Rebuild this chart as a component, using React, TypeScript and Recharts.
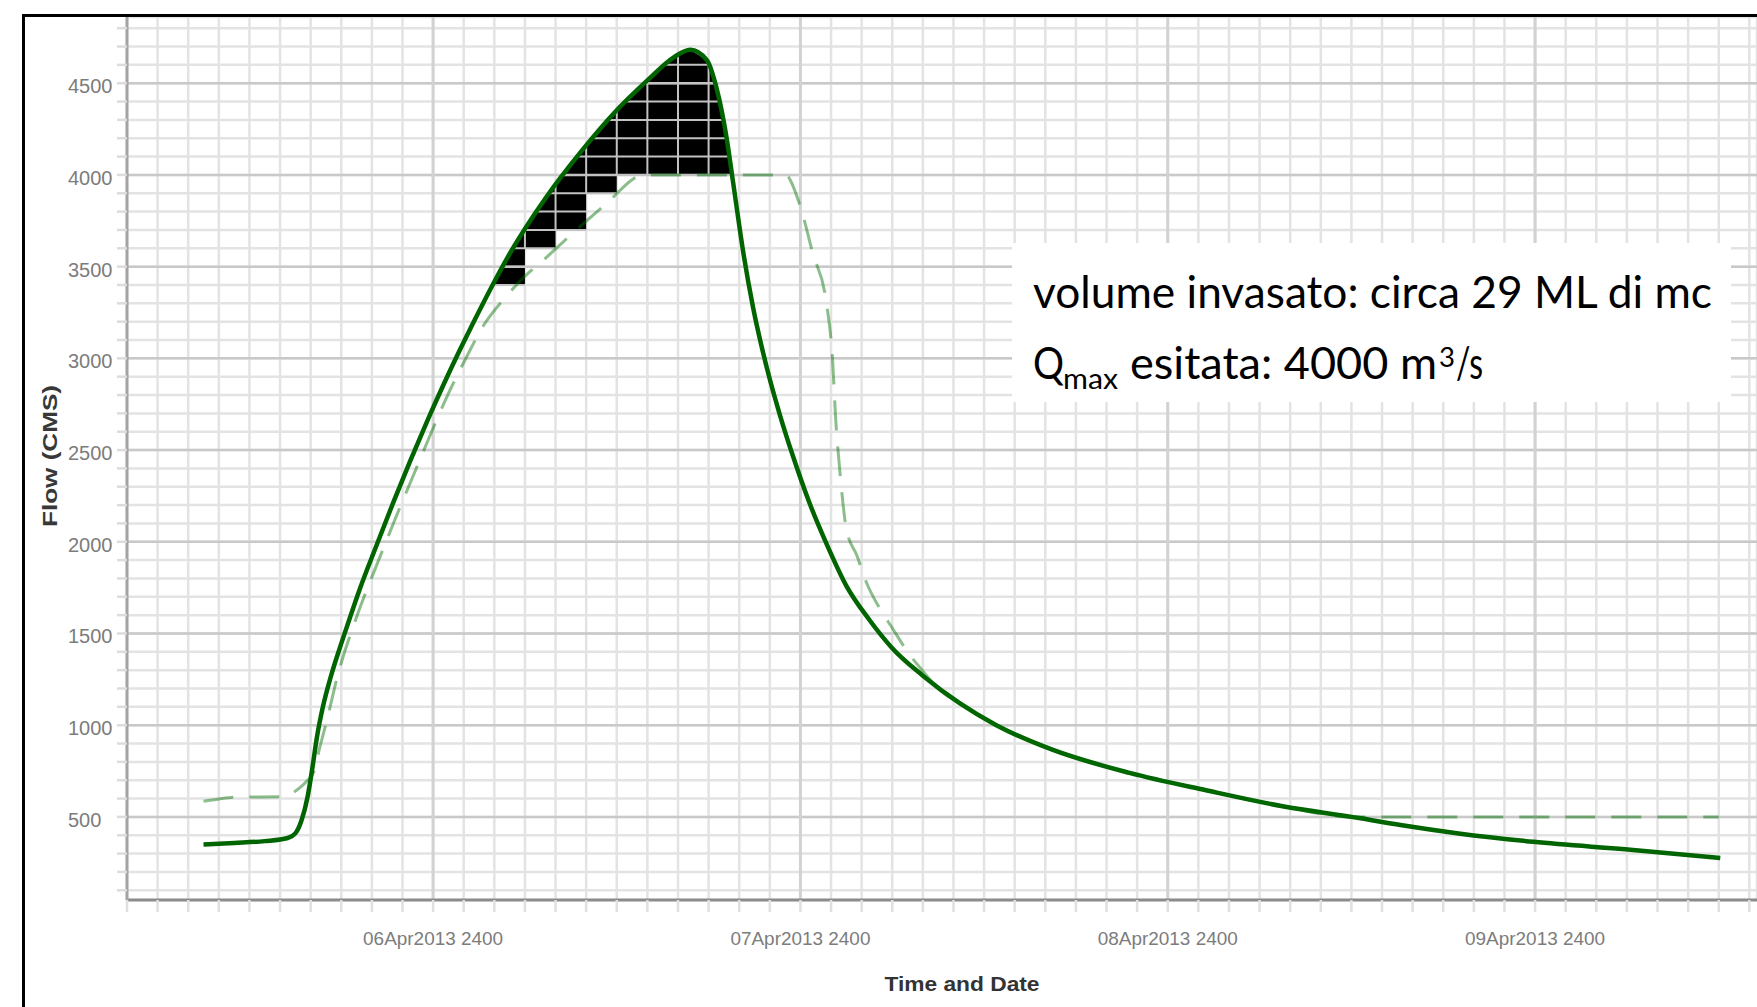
import React from "react";
import {
  ComposedChart,
  Line,
  Area,
  XAxis,
  YAxis,
  CartesianGrid,
  ReferenceLine,
} from "recharts";

// ---- DATA (hours from 06Apr2013 04:00, flow in m3/s) ----
const inflowHours = [
  5.0, 7.0, 9.0, 10.5, 11.0, 11.4, 11.8, 12.1, 12.4, 12.8, 13.3, 13.9, 14.4, 15.2,
  16.3, 17.4, 18.5, 19.6, 20.7, 21.8, 22.6, 23.7, 25.0, 27.4, 29.6, 31.8, 34.0,
  35.7, 36.8, 37.9, 38.5, 39.2, 39.6, 40.3, 40.9, 41.8, 42.7, 43.5, 44.6, 45.7,
  47.0, 48.5, 50.0, 52.0, 54.4, 56.8, 60.5, 65.5, 70.5, 75.5, 80.5, 83.2, 87.0,
  91.9, 98.4, 104.1,
];
const inflowFlow = [
  350, 358, 368, 385, 410, 480, 610, 760, 930, 1100, 1260, 1420, 1545, 1740,
  1980, 2215, 2440, 2655, 2860, 3055, 3190, 3370, 3570, 3880, 4120, 4335, 4515,
  4640, 4682, 4625, 4480, 4190, 3960, 3560, 3280, 2950, 2680, 2470, 2210, 1990,
  1760, 1575, 1420, 1270, 1120, 1000, 865, 740, 645, 558, 494, 456, 410,
  364, 320, 276,
];
const outflowHours = [
  5.0, 6.0, 7.0, 10.2, 10.8, 11.3, 11.8, 12.2, 12.6, 13.1, 13.7, 15.0, 16.3, 17.6,
  18.7, 19.6, 20.9, 22.2, 23.3, 24.8, 25.9, 27.4, 28.7, 31.4, 33.5, 34.0,
  43.0, 44.0, 44.8, 45.7, 46.1, 46.3, 46.6, 47.0, 47.7, 48.3, 49.2, 50.0, 51.0,
  52.0, 53.0, 54.4, 56.8, 60.5, 65.5, 70.5, 75.5, 80.0, 90.0, 104.0,
];
const outflowFlow = [
  585, 598, 607, 610, 630, 660, 700, 745, 880, 1040, 1250, 1590, 1870, 2140,
  2360, 2540, 2790, 3010, 3180, 3340, 3440, 3550, 3650, 3850, 3995, 4000,
  4000, 3826, 3575, 3302, 2992, 2675, 2365, 2070, 1923, 1781, 1634, 1530, 1400,
  1295, 1200, 1120, 1000, 865, 740, 645, 558, 500, 500, 500,
];

const yLabelTicks = [500, 1000, 1500, 2000, 2500, 3000, 3500, 4000, 4500];
const xMajorHours = [20, 44, 68, 92];
const xMajorLabels = ["06Apr2013 2400", "07Apr2013 2400", "08Apr2013 2400", "09Apr2013 2400"];
const shadeColumns = [24, 26, 28, 30, 32, 34, 36, 38];

const yDomain: [number, number] = [47, 4861];
const xDomain: [number, number] = [0, 106.5];
const yMinorTicks = Array.from({ length: 48 }, (_, i) => (i + 1) * 100);
const xMinorTicks = Array.from({ length: 54 }, (_, i) => i * 2);

const inflowData = inflowHours.map((t, i) => ({ t, v: inflowFlow[i] }));
const outflowData = outflowHours.map((t, i) => ({ t, v: outflowFlow[i] }));

// ---- helpers to derive the hatched storage region from the two series ----
function interp(xs: number[], ys: number[], x: number) {
  for (let i = 1; i < xs.length; i++) {
    if (x <= xs[i]) {
      const f = (x - xs[i - 1]) / (xs[i] - xs[i - 1]);
      return ys[i - 1] + f * (ys[i] - ys[i - 1]);
    }
  }
  return ys[ys.length - 1];
}
const peakIdx = inflowFlow.indexOf(Math.max(...inflowFlow));
function riseTime(level: number) {
  for (let i = 1; i <= peakIdx; i++) {
    if (inflowFlow[i] >= level) {
      const f = (level - inflowFlow[i - 1]) / (inflowFlow[i] - inflowFlow[i - 1]);
      return inflowHours[i - 1] + f * (inflowHours[i] - inflowHours[i - 1]);
    }
  }
  return 999;
}
function fallTime(level: number) {
  for (let i = peakIdx + 1; i < inflowFlow.length; i++) {
    if (inflowFlow[i] <= level) {
      const f = (inflowFlow[i - 1] - level) / (inflowFlow[i - 1] - inflowFlow[i]);
      return inflowHours[i - 1] + f * (inflowHours[i] - inflowHours[i - 1]);
    }
  }
  return -999;
}
const colLow = (c: number) => Math.ceil(interp(outflowHours, outflowFlow, c + 1) / 100) * 100;

const shadeData: { t: number; r: [number, number] }[] = [];
shadeColumns.forEach((c) => {
  const low = colLow(c);
  for (let k = 0; k <= 10; k++) {
    const t = c + k * 0.2;
    const up = interp(inflowHours, inflowFlow, t);
    shadeData.push({ t, r: [low, Math.max(low, up)] });
  }
});

// grid segments visible inside the black region
const hSegs: { v: number; a: number; b: number }[] = [];
for (let v = 3400; v <= 4700; v += 100) {
  const a = Math.max(24, riseTime(v));
  let lastCol = -1;
  shadeColumns.forEach((c) => {
    if (colLow(c) <= v) lastCol = c;
  });
  const b = Math.min(lastCol + 2, fallTime(v));
  if (lastCol >= 0 && b > a) hSegs.push({ v, a, b });
}
const vSegs: { t: number; lo: number; hi: number }[] = [];
shadeColumns.slice(1).forEach((c) => {
  const lo = colLow(c);
  const hi = interp(inflowHours, inflowFlow, c);
  if (hi > lo) vSegs.push({ t: c, lo, hi });
});

const YTick = (p: any) => {
  const v = p.payload.value;
  if (!yLabelTicks.includes(v)) return <g />;
  return (
    <text
      x={p.x - 47}
      y={p.y + 10}
      textAnchor="start"
      fontSize={20}
      fontFamily="'Liberation Sans', Arial, sans-serif"
      fill="#7c7c7c"
    >
      {v}
    </text>
  );
};

const XTick = (p: any) => {
  const idx = xMajorHours.indexOf(p.payload.value);
  if (idx < 0) return <g />;
  return (
    <text
      x={p.x}
      y={p.y + 31}
      textAnchor="middle"
      fontSize={19}
      fontFamily="'Liberation Sans', Arial, sans-serif"
      fill="#7c7c7c"
      textLength={140}
      lengthAdjust="spacingAndGlyphs"
    >
      {xMajorLabels[idx]}
    </text>
  );
};

export default function App() {
  return (
    <div
      style={{
        position: "fixed",
        left: 0,
        top: 0,
        width: 1757,
        height: 1007,
        overflow: "hidden",
        background: "#fff",
      }}
    >
      <ComposedChart
        width={1757}
        height={1007}
        margin={{ top: 17, right: 0, bottom: 0, left: 0 }}
      >
        <CartesianGrid stroke="#e3e3e3" strokeWidth={2.5} />
        {yLabelTicks.map((v) => (
          <ReferenceLine key={"hy" + v} y={v} stroke="#c9c9c9" strokeWidth={2.5} />
        ))}
        {xMajorHours.map((t) => (
          <ReferenceLine key={"vx" + t} x={t} stroke="#d2d2d2" strokeWidth={3} />
        ))}
        <XAxis
          type="number"
          dataKey="t"
          domain={xDomain}
          ticks={xMinorTicks}
          interval={0}
          allowDataOverflow
          height={107}
          tickSize={12}
          tickMargin={2}
          tick={<XTick />}
          tickLine={{ stroke: "#e0e0e0", strokeWidth: 2.5 }}
          axisLine={{ stroke: "#8c8c8c", strokeWidth: 3 }}
        />
        <YAxis
          type="number"
          domain={yDomain}
          ticks={yMinorTicks}
          interval={0}
          allowDataOverflow
          width={127}
          tickSize={10}
          tickMargin={2}
          tick={<YTick />}
          tickLine={{ stroke: "#dcdcdc", strokeWidth: 2.5 }}
          axisLine={{ stroke: "#a3a3a3", strokeWidth: 3 }}
        />
        <Area
          data={shadeData}
          dataKey="r"
          type="linear"
          fill="#000"
          fillOpacity={1}
          stroke="none"
          dot={false}
          activeDot={false}
          isAnimationActive={false}
        />
        {hSegs.map((s) => (
          <ReferenceLine
            key={"hs" + s.v}
            segment={[
              { x: s.a, y: s.v },
              { x: s.b, y: s.v },
            ]}
            stroke="#c2c2c2"
            strokeWidth={2}
          />
        ))}
        {vSegs.map((s) => (
          <ReferenceLine
            key={"vs" + s.t}
            segment={[
              { x: s.t, y: s.lo },
              { x: s.t, y: s.hi },
            ]}
            stroke="#c2c2c2"
            strokeWidth={2}
          />
        ))}
        <Line
          data={inflowData}
          dataKey="v"
          type="monotone"
          stroke="#006400"
          strokeWidth={4.5}
          dot={false}
          isAnimationActive={false}
        />
        <Line
          data={outflowData}
          dataKey="v"
          type="monotone"
          stroke="rgb(0,110,0)"
          strokeOpacity={0.45}
          strokeWidth={3}
          strokeDasharray="30 16"
          dot={false}
          isAnimationActive={false}
        />
      </ComposedChart>
      <svg
        width={1757}
        height={1007}
        style={{ position: "absolute", left: 0, top: 0, pointerEvents: "none" }}
      >
        <text
          transform="translate(57,456) rotate(-90)"
          textAnchor="middle"
          fontSize={20}
          fontWeight="bold"
          fontFamily="'Liberation Sans', Arial, sans-serif"
          fill="#383838"
          textLength={142}
          lengthAdjust="spacingAndGlyphs"
        >
          Flow (CMS)
        </text>
        <text
          x={962}
          y={991}
          textAnchor="middle"
          fontSize={21}
          fontWeight="bold"
          fontFamily="'Liberation Sans', Arial, sans-serif"
          fill="#333"
          textLength={155}
          lengthAdjust="spacingAndGlyphs"
        >
          Time and Date
        </text>
        <rect x={1012} y={243} width={719} height={159} fill="#fff" />
        <g fontFamily="Lato, 'Open Sans', sans-serif" fill="#000">
          <text
            x={1033}
            y={308}
            fontSize={45}
            textLength={679}
            lengthAdjust="spacingAndGlyphs"
          >
            volume invasato: circa 29 ML di mc
          </text>
          <text x={1033} y={379} fontSize={45} textLength={31} lengthAdjust="spacingAndGlyphs">
            Q
          </text>
          <text x={1063} y={389} fontSize={29} textLength={55} lengthAdjust="spacingAndGlyphs">
            max
          </text>
          <text x={1130} y={379} fontSize={45} textLength={307} lengthAdjust="spacingAndGlyphs">
            esitata: 4000 m
          </text>
          <text x={1439} y={367} fontSize={27} textLength={16} lengthAdjust="spacingAndGlyphs">
            3
          </text>
          <text x={1456} y={379} fontSize={45} textLength={27} lengthAdjust="spacingAndGlyphs">
            /s
          </text>
        </g>
      </svg>
      <div
        style={{
          position: "absolute",
          left: 22,
          top: 14,
          width: 1800,
          height: 1100,
          borderLeft: "3px solid #000",
          borderTop: "3px solid #000",
          pointerEvents: "none",
        }}
      />
    </div>
  );
}
